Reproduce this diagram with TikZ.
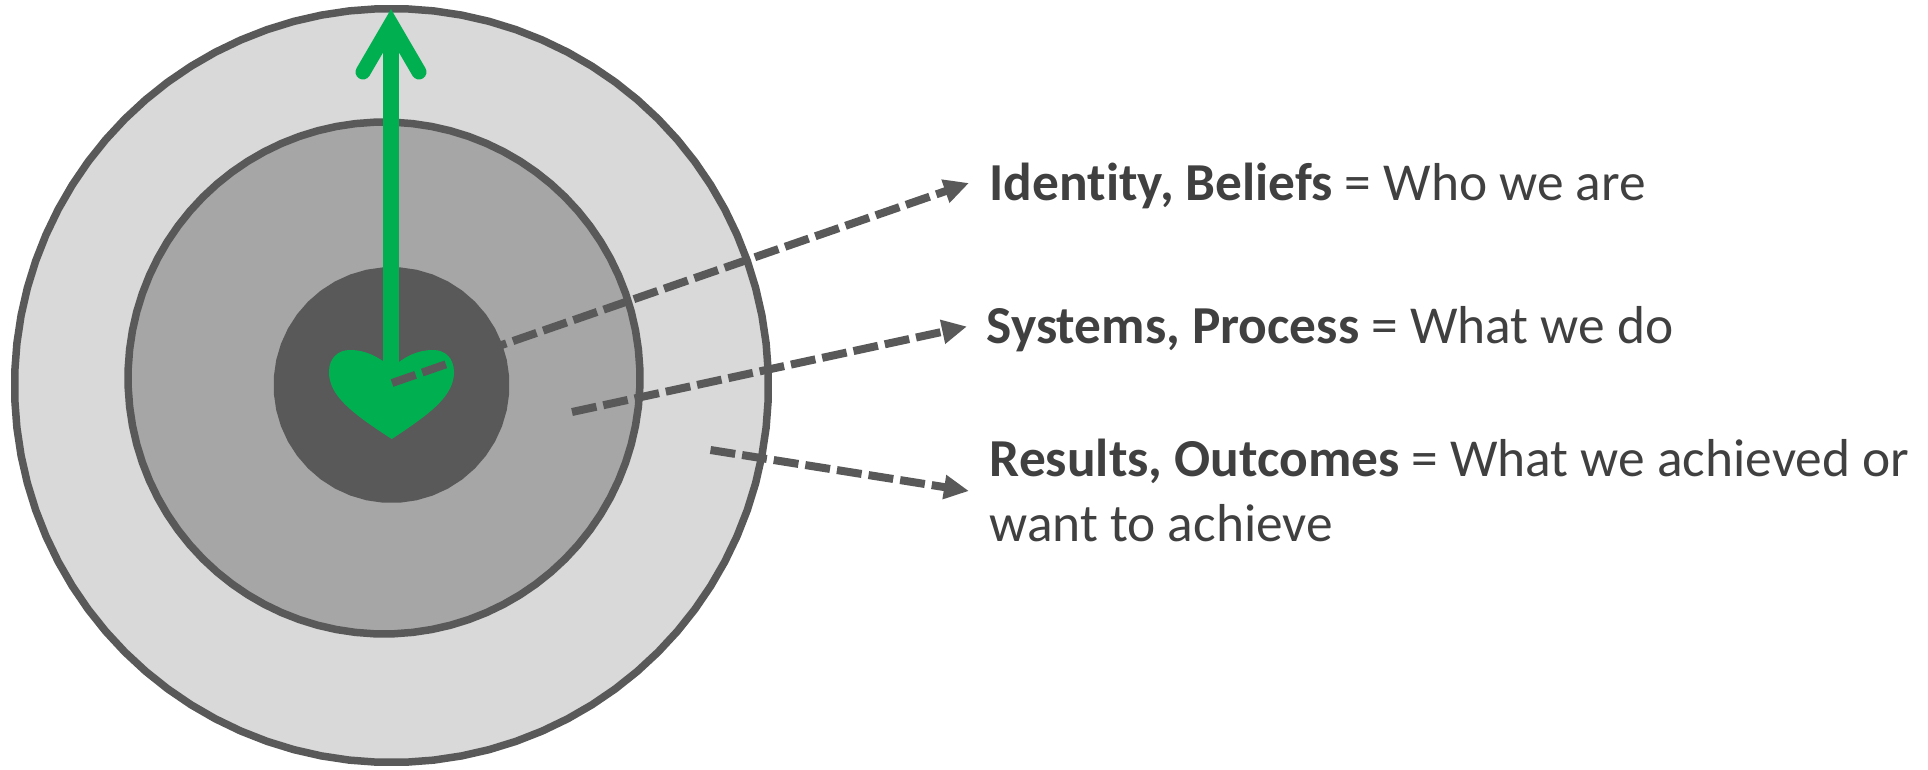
\documentclass[tikz,border=0pt]{standalone}
\usepackage{fontspec}
\setmainfont[Ligatures=NoCommon]{Carlito}
\usetikzlibrary{arrows.meta,shapes.geometric}
\definecolor{dk}{HTML}{595959}
\definecolor{grn}{HTML}{00B050}
\definecolor{txt}{HTML}{404040}
\tikzset{
  ring/.style={regular polygon,regular polygon sides=84,inner sep=0pt,outer sep=0pt,draw=dk,line width=7.5pt},
  link/.style={draw=dk,line width=8pt,dash pattern=on 25pt off 7pt,-{Triangle[length=25pt,width=23pt]}},
  label/.style={anchor=base west,inner sep=0pt,text=txt,font=\fontsize{53.4}{65}\selectfont,align=left},
  shaft/.style={draw=grn,line width=16pt},
  barb/.style={draw=grn,line width=15pt,line cap=round,line join=miter,miter limit=20},
}
\begin{document}
\begin{tikzpicture}[x=1pt,y=-1pt]
\useasboundingbox (0,0) rectangle (1928,769);
\node[ring,fill=black!15,minimum size=754pt] (outer) at (391.5,385.5) {};
\node[ring,fill=black!35,minimum size=512pt] (middle) at (384,378) {};
\node[ring,draw=none,fill=dk,regular polygon sides=44,minimum size=236pt] (inner) at (391.5,385) {};
\fill[grn] (391.7,439) .. controls (350,412) and (329,395) .. (329,372)
  .. controls (329,358) and (338,350) .. (350,350)
  .. controls (365,350) and (378,356) .. (391.7,368)
  .. controls (405,356) and (418,350) .. (433,350)
  .. controls (445,350) and (454,358) .. (454,372)
  .. controls (454,395) and (433,412) .. (391.7,439) -- cycle;
\coordinate (hc) at (391,382);
\coordinate (top) at (391,24);
\coordinate (bl) at (363,72);
\coordinate (br) at (419,72);
\draw[shaft] (hc) -- (top);
\draw[barb] (bl) -- (top) -- (br);
\node[label] (t1) at (989.5,200) {\textbf{Identity, Beliefs} = Who we are};
\node[label] (t2) at (986.5,343) {\textbf{Systems, Process} = What we do};
\node[label] (t3) at (989.5,476) {\textbf{Results, Outcomes} = What we achieved or};
\node[label] (t4) at (989.5,541) {want to achieve};
\coordinate (s1) at (392,383);
\coordinate (s2) at (572,412);
\coordinate (s3) at (710.5,450);
\coordinate (e1) at (969,183);
\coordinate (e2) at (967,326.5);
\coordinate (e3) at (969,491);
\draw[link] (s1) -- (e1);
\draw[link] (s2) -- (e2);
\draw[link] (s3) -- (e3);
\end{tikzpicture}
\end{document}
